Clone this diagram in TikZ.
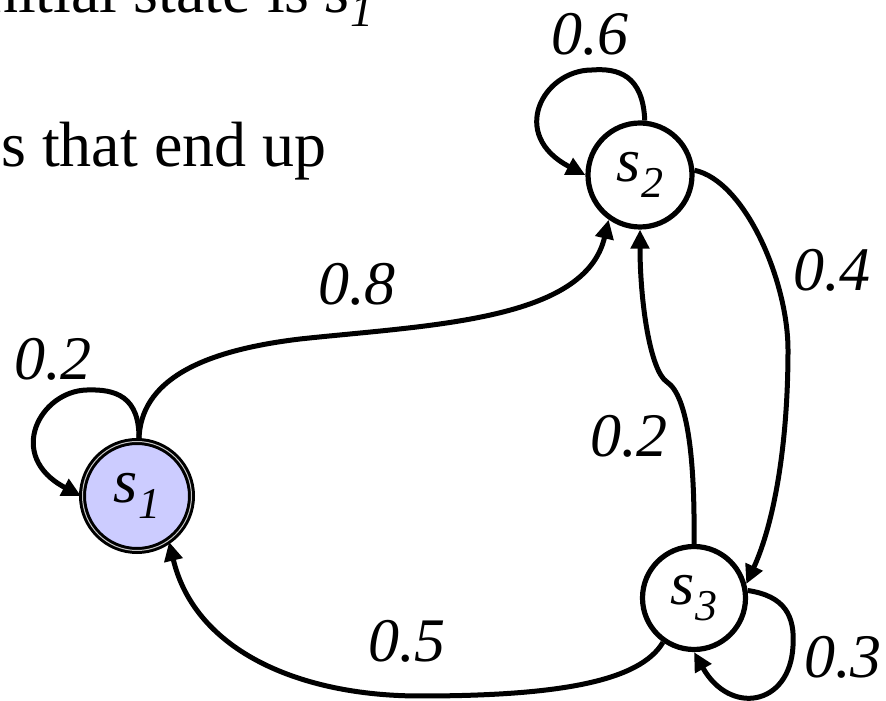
\documentclass[tikz,border=0pt]{standalone}
\usepackage{fontspec}
\setmainfont{Liberation Serif}
\usetikzlibrary{arrows.meta}
\definecolor{MCStartFill}{HTML}{CCCCFF}
\newcommand{\stname}[2]{\textit{#1}\raisebox{-0.25em}{\fontsize{44}{44}\selectfont\textit{#2}}}

\begin{document}
\begin{tikzpicture}[
    x=1pt,y=1pt,
    state/.style={circle,draw=black,line width=5.2pt,fill=white,
      minimum size=104pt,inner sep=0pt,font=\fontsize{62}{62}\selectfont},
    start/.style={state,fill=MCStartFill,line width=3pt,
      double=black!22,double distance=1pt,minimum size=109pt},
    lbl/.style={inner sep=0pt,font=\fontsize{62}{62}\selectfont\itshape},
    note/.style={anchor=base west,inner sep=0pt,font=\fontsize{64}{64}\selectfont},
    edge/.style={-{Triangle[length=19pt,width=18pt]},line width=5pt}
  ]
    \useasboundingbox (0,0) rectangle (886,701);
    \clip (0,0) rectangle (886,701);

    \node[note] (title) at (-14,688) {nitial state is \textit{s}\raisebox{-0.21em}{\fontsize{46}{46}\selectfont\textit{1}}};
    \node[note] (query) at (1,534) {s that end up};

    \node[start] (s1) at (137,205) {\stname{s}{1}};
    \node[state] (s2) at (640,526) {\stname{s}{2}};
    \node[state,minimum size=103pt] (s3) at (694,103) {\stname{s}{3}};

    \node[lbl] (p11) at (53,342) {0.2};
    \node[lbl] (p12) at (357,417) {0.8};
    \node[lbl] (p22) at (590,667) {0.6};
    \node[lbl] (p23) at (832,431) {0.4};
    \node[lbl] (p32) at (629,265) {0.2};
    \node[lbl] (p33) at (843,44) {0.3};
    \node[lbl] (p31) at (407,60) {0.5};

    % self loops
    \draw[edge] (s1.88) .. controls (140,305) and (115,312) .. (87,311)
      .. controls (40,310) and (5,245) .. (s1.180);
    \draw[edge] (s2.85) .. controls (643,626) and (618,633) .. (592,631)
      .. controls (543,631) and (508,566) .. (s2.180);
    \draw[edge] (s3.8) .. controls (785,105) and (795,85) .. (793,55)
      .. controls (790,-5) and (730,-15) .. (s3.south);

    % transitions
    \draw[edge] (s1.88) .. controls (140,320) and (200,350) .. (300,362)
      .. controls (430,376) and (585,380) .. (s2.235);
    \draw[edge] (s2.5) .. controls (745,520) and (788,420) .. (788,351)
      .. controls (788,260) and (775,180) .. (s3.15);
    \draw[edge] (s3.north) .. controls (695,240) and (688,305) .. (667,319)
      .. controls (650,330) and (640,400) .. (s2.south);
    \draw[edge] (s3.235) .. controls (640,20) and (560,5) .. (420,5)
      .. controls (300,5) and (195,50) .. (s1.305);
\end{tikzpicture}
\end{document}
